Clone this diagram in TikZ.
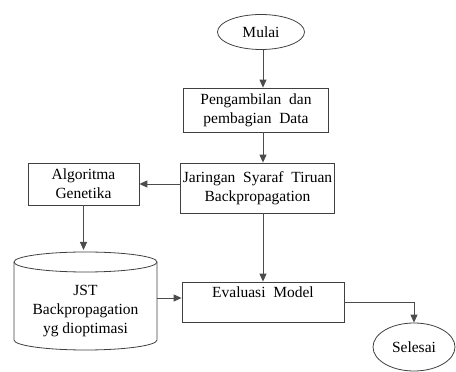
\documentclass[tikz,border=0pt]{standalone}
\usepackage{fontspec}
\setmainfont{Liberation Serif}
\usetikzlibrary{shapes.geometric,arrows.meta}

\begin{document}
\begin{tikzpicture}[x=1pt,y=1pt,
    kotak/.style={draw=black!75,line width=0.8pt,rectangle,align=center,inner sep=2pt},
    oval/.style={draw=black!75,line width=0.8pt,ellipse,inner sep=1pt},
    panah/.style={draw=black!70,line width=0.9pt,-{Triangle[length=8pt,width=7pt]}},
    font=\fontsize{15.5}{19}\selectfont]
  \useasboundingbox (0,0) rectangle (456,372);

  \node[oval,minimum width=87,minimum height=35] (mulai) at (261,340) {Mulai};
  \node[kotak,minimum width=145,minimum height=44] (ambil) at (256,262)
    {Pengambilan~ dan\\pembagian~ Data};
  \node[kotak,minimum width=149,minimum height=50] (jst) at (257.5,184)
    {Jaringan~ Syaraf~ Tiruan\\Backpropagation};
  \node[kotak,minimum width=111,minimum height=42] (ga) at (83.5,188)
    {Algoritma\\Genetika};
  \node[kotak,minimum width=162,minimum height=40] (eval) at (263,70)
    {Evaluasi~ Model\\ \mbox{}};
  \node[oval,minimum width=82,minimum height=48] (selesai) at (414,25) {Selesai};

  % tabung
  \draw[draw=black!75,line width=0.8pt] (14,110) -- (14,32) arc (180:360:71.5 and 10) -- (157,110);
  \draw[draw=black!75,line width=0.8pt] (85.5,110) ellipse (71.5 and 10);
  \node[align=center,minimum width=143,minimum height=98] (jstopt) at (85.5,61)
    {JST\\Backpropagation\\yg dioptimasi};

  \coordinate (jalur) at (263,0);
  \draw[panah] (mulai.south -| jalur) -- (ambil.north -| jalur);
  \draw[panah] (ambil.south -| jalur) -- (jst.north -| jalur);
  \draw[panah] (ga.east -| jst.west) -- (ga.east);
  \draw[panah] (ga.south) -- (ga.south |- 0,122);
  \draw[panah] (jst.south -| eval.north) -- (eval.north);
  \draw[panah] ([yshift=13pt]jstopt.east) -- ([yshift=13pt]jstopt.east -| eval.west);
  \draw[panah] (eval.east) -| (selesai.north);

\end{tikzpicture}
\end{document}
